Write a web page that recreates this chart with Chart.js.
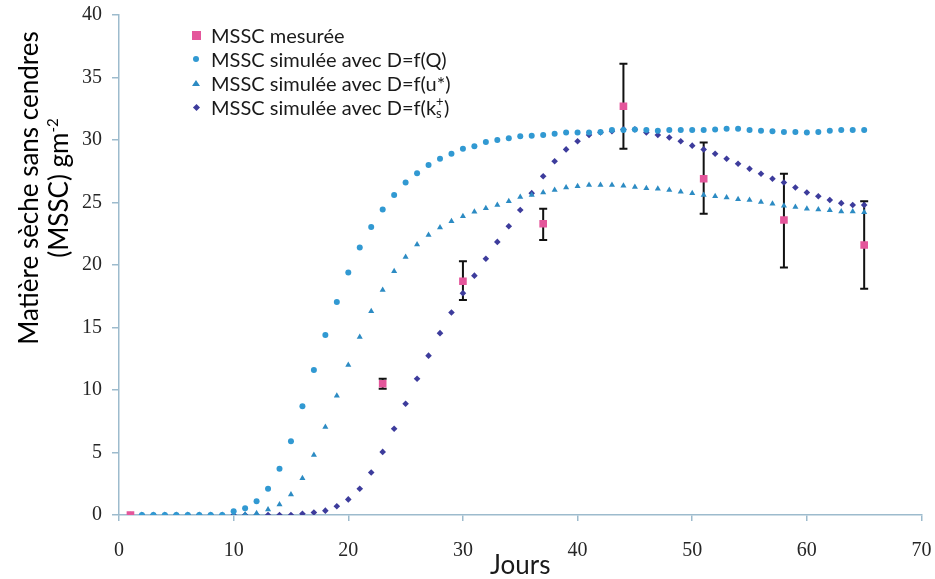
<!DOCTYPE html>
<html lang="fr">
<head>
<meta charset="utf-8">
<title>MSSC</title>
<script src="https://cdn.jsdelivr.net/npm/chart.js@4.4.1/dist/chart.umd.min.js"></script>
<style>
	html, body { margin: 0; padding: 0; background: #fff; }
	#wrap { position: relative; width: 935px; height: 579px; overflow: hidden; }
	#chart { position: absolute; left: 0; top: 0; }
	#yTitle {
		position: absolute; left: -157px; top: 158px; width: 400px; height: 60px;
		transform: rotate(-90deg); transform-origin: 50% 50%;
		font-family: Lato, sans-serif; font-size: 26px; line-height: 30px;
		text-align: center; color: #000; white-space: nowrap;
	}
	#yTitle sup { font-size: 15px; line-height: 0; vertical-align: baseline; position: relative; top: -10px; }
	#legend {
		position: absolute; left: 190px; top: 23px;
		font-family: Lato, sans-serif; font-size: 20px; color: #1a1a1a;
	}
	#legend .row { height: 24px; line-height: 24px; white-space: nowrap; display: flex; align-items: center; }
	#legend .mk { width: 12px; height: 24px; position: relative; margin-right: 9px; }
	#legend .mk span { position: absolute; left: 50%; top: 50%; }
	#legend .ks { display: inline-block; position: relative; width: 8px; height: 24px; vertical-align: top; }
	#legend .ks i { font-style: normal; font-size: 13px; line-height: 13px; position: absolute; left: 0; }
	#legend .ks .s { top: 12px; }
	#legend .ks .p { top: 0px; }
	.sq { width: 9px; height: 9px; margin: -4.5px 0 0 -4.5px; background: #e4569b; }
	.ci { width: 6px; height: 6px; margin: -3px 0 0 -3px; border-radius: 50%; background: #3199d2; }
	.tr { width: 0; height: 0; margin: -3px 0 0 -4px; border-left: 4px solid transparent; border-right: 4px solid transparent; border-bottom: 6px solid #2c8bc3; }
	.di { width: 5px; height: 5px; margin: -2.5px 0 0 -2.5px; background: #3d3c9c; transform: rotate(45deg); }
</style>
</head>
<body>
<div id="wrap">
	<canvas id="chart" width="935" height="579"></canvas>
	<div id="yTitle">Matière sèche sans cendres<br>(MSSC) gm<sup>-2</sup></div>
	<div id="legend">
		<div class="row"><div class="mk"><span class="sq"></span></div>MSSC mesurée</div>
		<div class="row"><div class="mk"><span class="ci"></span></div>MSSC simulée avec D=f(Q)</div>
		<div class="row"><div class="mk"><span class="tr"></span></div>MSSC simulée avec D=f(u*)</div>
		<div class="row"><div class="mk"><span class="di"></span></div><span>MSSC simulée avec D=f(k<span class="ks"><i class="s">s</i><i class="p">+</i></span>)</span></div>
	</div>
</div>
<script>
// Jours de simulation
const jours = [
	1, 2, 3, 4, 5, 6, 7, 8, 9, 10, 11, 12, 13, 14, 15, 16, 17, 18, 19, 20,
	21, 22, 23, 24, 25, 26, 27, 28, 29, 30, 31, 32, 33, 34, 35, 36, 37, 38, 39, 40,
	41, 42, 43, 44, 45, 46, 47, 48, 49, 50, 51, 52, 53, 54, 55, 56, 57, 58, 59, 60,
	61, 62, 63, 64, 65,
];

// MSSC simulée avec D=f(Q)
const simQ = [
	0, 0, 0, 0, 0, 0, 0, 0, 0, 0.3, 0.55, 1.1, 2.1, 3.7, 5.9, 8.7, 11.6, 14.4, 17.05, 19.4,
	21.4, 23.05, 24.45, 25.6, 26.6, 27.35, 28.0, 28.5, 28.9, 29.3, 29.5, 29.85, 30.0, 30.15, 30.3, 30.35, 30.4, 30.5, 30.6, 30.6,
	30.6, 30.65, 30.8, 30.8, 30.85, 30.8, 30.75, 30.8, 30.8, 30.8, 30.8, 30.85, 30.9, 30.9, 30.8, 30.75, 30.7, 30.65, 30.65, 30.6,
	30.65, 30.75, 30.8, 30.8, 30.8,
];

// MSSC simulée avec D=f(u*)
const simU = [
	0, 0, 0, 0, 0, 0, 0, 0, 0, 0, 0.05, 0.15, 0.45, 0.85, 1.65, 2.95, 4.8, 7.05, 9.55, 12.0,
	14.25, 16.3, 18.0, 19.5, 20.65, 21.65, 22.4, 23.0, 23.5, 23.9, 24.27, 24.55, 24.8, 25.1, 25.45, 25.6, 25.8, 26.0, 26.2, 26.3,
	26.4, 26.4, 26.4, 26.35, 26.25, 26.15, 26.1, 26.0, 25.87, 25.74, 25.6, 25.5, 25.4, 25.26, 25.2, 25.05, 24.9, 24.75, 24.65, 24.5,
	24.45, 24.38, 24.28, 24.28, 24.22,
];

// MSSC simulée avec D=f(ks+)
const simK = [
	0, 0, 0, 0, 0, 0, 0, 0, 0, 0, 0, 0, 0, 0, 0, 0.1, 0.2, 0.35, 0.7, 1.25,
	2.1, 3.4, 5.05, 6.9, 8.9, 10.9, 12.75, 14.55, 16.2, 17.75, 19.15, 20.5, 21.85, 23.1, 24.4, 25.75, 27.1, 28.3, 29.25, 29.9,
	30.4, 30.6, 30.7, 30.85, 30.85, 30.6, 30.4, 30.2, 29.9, 29.55, 29.25, 28.9, 28.5, 28.1, 27.7, 27.3, 26.9, 26.6, 26.2, 25.8,
	25.5, 25.2, 24.95, 24.8, 24.8,
];

// MSSC mesurée + barres d'erreur
const joursMesure = [1, 23, 30, 37, 44, 51, 58, 65];
const mesure = [0, 10.5, 18.7, 23.3, 32.7, 26.9, 23.6, 21.6];
const mesureBas = [null, 10.1, 17.2, 22.0, 29.3, 24.1, 19.8, 18.1];
const mesureHaut = [null, 10.9, 20.3, 24.5, 36.1, 29.8, 27.3, 25.1];

const xTicks = [0, 10, 20, 30, 40, 50, 60, 70];
const yTicks = [0, 5, 10, 15, 20, 25, 30, 35, 40];

const AXIS_COLOR = "#9dbbcd";
const TICK_FONT = { family: "'Liberation Serif', 'Times New Roman', serif", size: 20 };

function toPoints(xs, ys) {
	return xs.map((x, i) => ({ x: x, y: ys[i] }));
}

// Barres d'erreur dessinées sous les points
const errorBars = {
	id: "errorBars",
	beforeDatasetsDraw(chart) {
		const { ctx, scales } = chart;
		ctx.save();
		ctx.strokeStyle = "#111";
		ctx.lineWidth = 2;
		joursMesure.forEach((j, i) => {
			if (mesureBas[i] === null) return;
			const px = scales.x.getPixelForValue(j);
			const top = scales.y.getPixelForValue(mesureHaut[i]);
			const bot = scales.y.getPixelForValue(mesureBas[i]);
			ctx.beginPath();
			ctx.moveTo(px, top);
			ctx.lineTo(px, bot);
			ctx.moveTo(px - 4, top);
			ctx.lineTo(px + 4, top);
			ctx.moveTo(px - 4, bot);
			ctx.lineTo(px + 4, bot);
			ctx.stroke();
		});
		ctx.restore();
	},
};

const ctx = document.getElementById("chart").getContext("2d");

new Chart(ctx, {
	type: "scatter",
	data: {
		datasets: [
			{
				label: "MSSC mesurée",
				data: toPoints(joursMesure, mesure),
				pointStyle: "rect",
				pointRadius: 5.4,
				backgroundColor: "#e4569b",
				borderColor: "#e4569b",
				borderWidth: 0,
			},
			{
				label: "MSSC simulée avec D=f(Q)",
				data: toPoints(jours, simQ),
				pointStyle: "circle",
				pointRadius: 3,
				backgroundColor: "#3199d2",
				borderColor: "#3199d2",
				borderWidth: 0,
			},
			{
				label: "MSSC simulée avec D=f(u*)",
				data: toPoints(jours, simU),
				pointStyle: "triangle",
				pointRadius: 3.5,
				backgroundColor: "#2c8bc3",
				borderColor: "#2c8bc3",
				borderWidth: 0,
			},
			{
				label: "MSSC simulée avec D=f(ks+)",
				data: toPoints(jours, simK),
				pointStyle: "rectRot",
				pointRadius: 3.3,
				backgroundColor: "#3d3c9c",
				borderColor: "#3d3c9c",
				borderWidth: 0,
			},
		],
	},
	options: {
		responsive: false,
		animation: false,
		layout: { padding: { top: 15, right: 13.5, left: 0, bottom: 0 } },
		plugins: {
			legend: { display: false },
			tooltip: { enabled: false },
		},
		scales: {
			x: {
				type: "linear",
				min: 0,
				max: 70,
				afterFit: (s) => {
					s.height = 64;
					s.paddingLeft = 0;
					s.paddingRight = 0;
				},
				afterBuildTicks: (s) => { s.ticks = xTicks.map((v) => ({ value: v })); },
				ticks: { font: TICK_FONT, color: "#262626", padding: 18, maxRotation: 0 },
				grid: { drawOnChartArea: false, drawTicks: true, tickLength: 6, color: AXIS_COLOR, lineWidth: 1.5 },
				border: { display: true, color: AXIS_COLOR, width: 1.5 },
				title: {
					display: true,
					text: "Jours",
					font: { family: "Lato, sans-serif", size: 26, lineHeight: 1 },
					color: "#1a1a1a",
					padding: 0,
				},
			},
			y: {
				type: "linear",
				min: 0,
				max: 40,
				afterFit: (s) => {
					s.width = 119;
					s.paddingTop = 0;
					s.paddingBottom = 0;
				},
				afterBuildTicks: (s) => { s.ticks = yTicks.map((v) => ({ value: v })); },
				ticks: { font: TICK_FONT, color: "#262626", padding: 10 },
				grid: { drawOnChartArea: false, drawTicks: true, tickLength: 7, color: AXIS_COLOR, lineWidth: 1.5 },
				border: { display: true, color: AXIS_COLOR, width: 1.5 },
			},
		},
	},
	plugins: [errorBars],
});
</script>
</body>
</html>
